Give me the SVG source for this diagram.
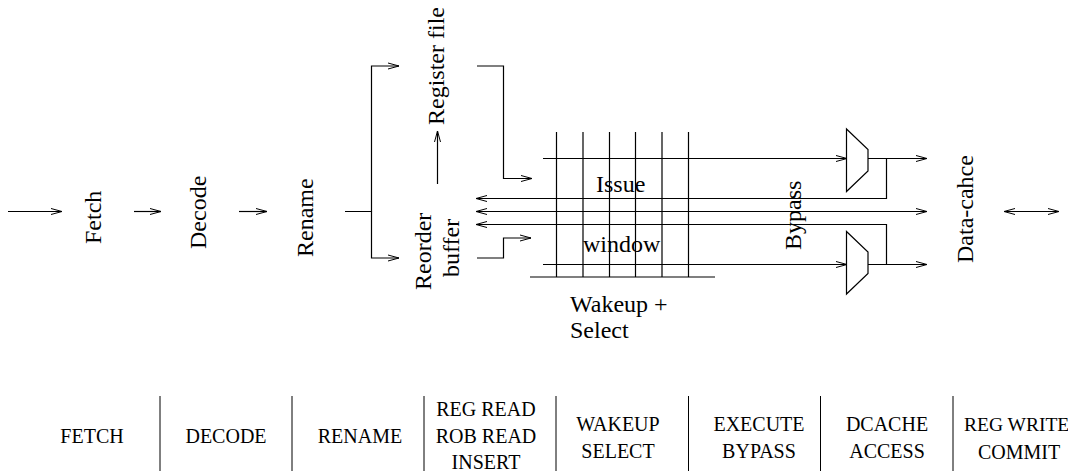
<svg xmlns="http://www.w3.org/2000/svg" width="1068" height="471" viewBox="0 0 1068 471">
<style>
text{font-family:"Liberation Serif","Times New Roman",serif;font-size:24px;fill:#000}
.t{font-size:20px;text-anchor:middle}
.s{font-size:19.500px}
.l{fill:none;stroke:#000;stroke-width:1.2}
.a{marker-end:url(#h)}
.b{marker-start:url(#hs);marker-end:url(#h)}
.g{fill:none;stroke:#000;stroke-width:1}
</style>
<defs>
<marker id="h" markerUnits="userSpaceOnUse" markerWidth="14" markerHeight="10" refX="12" refY="5" orient="auto"><path d="M1,2 L12,5 L1,8" fill="none" stroke="#000" stroke-width="1"/></marker>
<marker id="hs" markerUnits="userSpaceOnUse" markerWidth="14" markerHeight="10" refX="2" refY="5" orient="auto"><path d="M13,2 L2,5 L13,8" fill="none" stroke="#000" stroke-width="1"/></marker>
</defs>
<g id="connectors">
<path class="l a" d="M8 211.5H62"/>
<path class="l a" d="M134 211.5H161"/>
<path class="l a" d="M239 211.5H267"/>
<path class="l a" d="M345 211.5H371.5V66H399"/>
<path class="l a" d="M371.5 211.5V258H399"/>
<path class="l a" d="M437.5 184V131"/>
<path class="l a" d="M477 66H503.5V178.5H532"/>
<path class="l a" d="M477 258H503.5V238H531"/>
<path class="l a" d="M543 158.5H847"/>
<path class="l a" d="M543 264.5H847"/>
<path class="l a" d="M868 158.5H927"/>
<path class="l a" d="M868 264.5H927"/>
<path class="l a" d="M886.5 158.5V198.5H476"/>
<path class="l a" d="M886.5 264.5V224.5H476"/>
<path class="l b" d="M476 211.5H927"/>
<path class="l b" d="M1004 211.5H1059"/>
<path class="l" d="M530 277H715"/>
<path class="l" d="M556.5 132V277M583 132V277M609.500 132V277M635.500 132V277M662 132V277M688.500 132V277"/>
</g>
<g id="fetch"><text transform="translate(101 244) rotate(-90)">Fetch</text></g>
<g id="decode"><text transform="translate(206 249) rotate(-90)">Decode</text></g>
<g id="rename"><text transform="translate(313 257) rotate(-90)">Rename</text></g>
<g id="register-file"><text transform="translate(444 125) rotate(-90)">Register file</text></g>
<g id="reorder-buffer"><text transform="translate(431 290) rotate(-90)">Reorder</text><text transform="translate(459 277) rotate(-90)">buffer</text></g>
<g id="issue-window"><text x="596" y="192">Issue</text><text x="583" y="252">window</text></g>
<g id="wakeup-select"><text x="570" y="312">Wakeup +</text><text x="570" y="338">Select</text></g>
<g id="bypass"><text transform="translate(801 250) rotate(-90)">Bypass</text></g>
<g id="mux-top"><path class="l" d="M846.500 129L868 149.500V171L846.500 191.500Z"/></g>
<g id="mux-bottom"><path class="l" d="M846.500 231.500L868 252V273.500L846.500 294Z"/></g>
<g id="data-cache"><text transform="translate(973 263) rotate(-90)">Data-cahce</text></g>
<g id="stages">
<path class="g" d="M160 396V471M292 396V471M424 396V471M556 396V471M688.500 396V471M820.500 396V471M953 396V471"/>
<text class="t" x="92" y="443">FETCH</text>
<text class="t" x="226" y="443">DECODE</text>
<text class="t" x="360" y="443">RENAME</text>
<text class="t" x="486" y="416">REG READ</text>
<text class="t" x="486" y="443">ROB READ</text>
<text class="t" x="486" y="469">INSERT</text>
<text class="t" x="618" y="431">WAKEUP</text>
<text class="t" x="618" y="458">SELECT</text>
<text class="t" x="759" y="431">EXECUTE</text>
<text class="t" x="759" y="458">BYPASS</text>
<text class="t" x="887" y="431">DCACHE</text>
<text class="t" x="887" y="458">ACCESS</text>
<text class="s" x="964" y="431">REG WRITE</text>
<text class="t" x="1019" y="459">COMMIT</text>
</g>
</svg>
